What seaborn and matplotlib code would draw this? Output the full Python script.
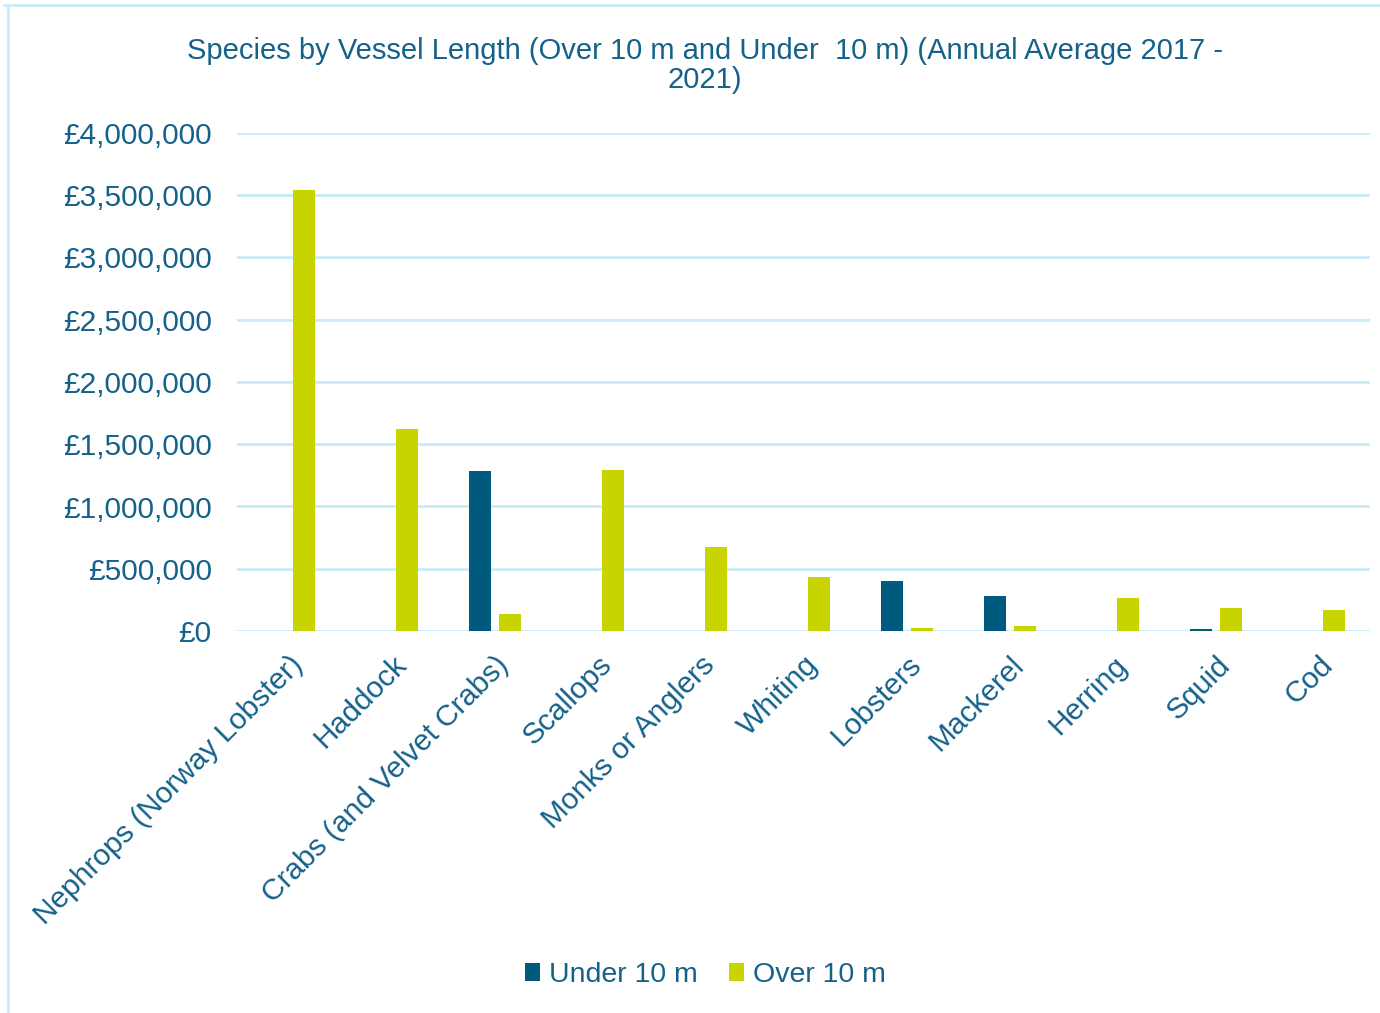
import matplotlib
matplotlib.use("Agg")
import matplotlib.pyplot as plt
import seaborn as sns
import pandas as pd
from matplotlib.lines import Line2D
from matplotlib.ticker import FuncFormatter

species = ["Nephrops (Norway Lobster)", "Haddock", "Crabs (and Velvet Crabs)", "Scallops",
           "Monks or Anglers", "Whiting", "Lobsters", "Mackerel", "Herring", "Squid", "Cod"]
under_10m = [0, 0, 1285000, 0, 0, 0, 400000, 281000, 0, 16000, 0]
over_10m = [3542000, 1622000, 137000, 1293000, 675000, 434000, 27000, 38000, 268000, 187000, 166000]
series = ["Under 10 m", "Over 10 m"]
title = "Species by Vessel Length (Over 10 m and Under  10 m) (Annual Average 2017 -\n2021)"

df = pd.DataFrame({
    "Species": species * 2,
    "Value": under_10m + over_10m,
    "Series": [series[0]] * len(species) + [series[1]] * len(species),
})

sns.set_theme(style="white")
plt.rcParams["font.family"] = ["Liberation Sans", "DejaVu Sans"]
text_color = "#14618a"
grid_color = "#c8ebf8"

fig = plt.figure(figsize=(13.8, 10.13), dpi=100)
ax = fig.add_axes([0.172, 0.377, 0.821, 0.492])

sns.barplot(data=df, x="Species", y="Value", hue="Series", order=species, hue_order=series,
            palette={"Under 10 m": "#005a7e", "Over 10 m": "#c8d400"}, saturation=1,
            width=0.58, gap=0.27, ax=ax, legend=True, edgecolor="none")

ax.set_ylim(0, 4000000)
ax.set_yticks(range(0, 4000001, 500000))
ax.yaxis.set_major_formatter(FuncFormatter(lambda v, p: f"£{v:,.0f}"))
ax.set_xlim(-0.5, len(species) - 0.5)
ax.grid(axis="y", color=grid_color, lw=2)
ax.set_axisbelow(True)
for s in ax.spines.values():
    s.set_visible(False)
ax.set_xlabel("")
ax.set_ylabel("")
ax.tick_params(axis="both", length=0, colors=text_color, labelsize=21.5)
ax.tick_params(axis="y", pad=18.5)
ax.tick_params(axis="x", pad=14)
for lab in ax.get_xticklabels():
    lab.set_rotation(45)
    lab.set_ha("right")
    lab.set_rotation_mode("anchor")
    lab.set_color(text_color)

leg = ax.legend(loc="center", bbox_to_anchor=(0.511, 0.0375), bbox_transform=fig.transFigure,
                ncol=2, frameon=False, fontsize=20.5, handlelength=0.55, handleheight=0.55,
                handletextpad=0.3, columnspacing=1.1)
for t in leg.get_texts():
    t.set_color(text_color)

fig.text(0.511, 0.935, title, ha="center", va="center", fontsize=21, color=text_color,
         linespacing=1.05)

fig.add_artist(Line2D([0.003, 1.0], [0.995, 0.995], transform=fig.transFigure, color=grid_color, lw=2))
fig.add_artist(Line2D([0.006, 0.006], [0.0, 0.995], transform=fig.transFigure, color=grid_color, lw=2))

fig.savefig("out.png", dpi=100, facecolor="white")
